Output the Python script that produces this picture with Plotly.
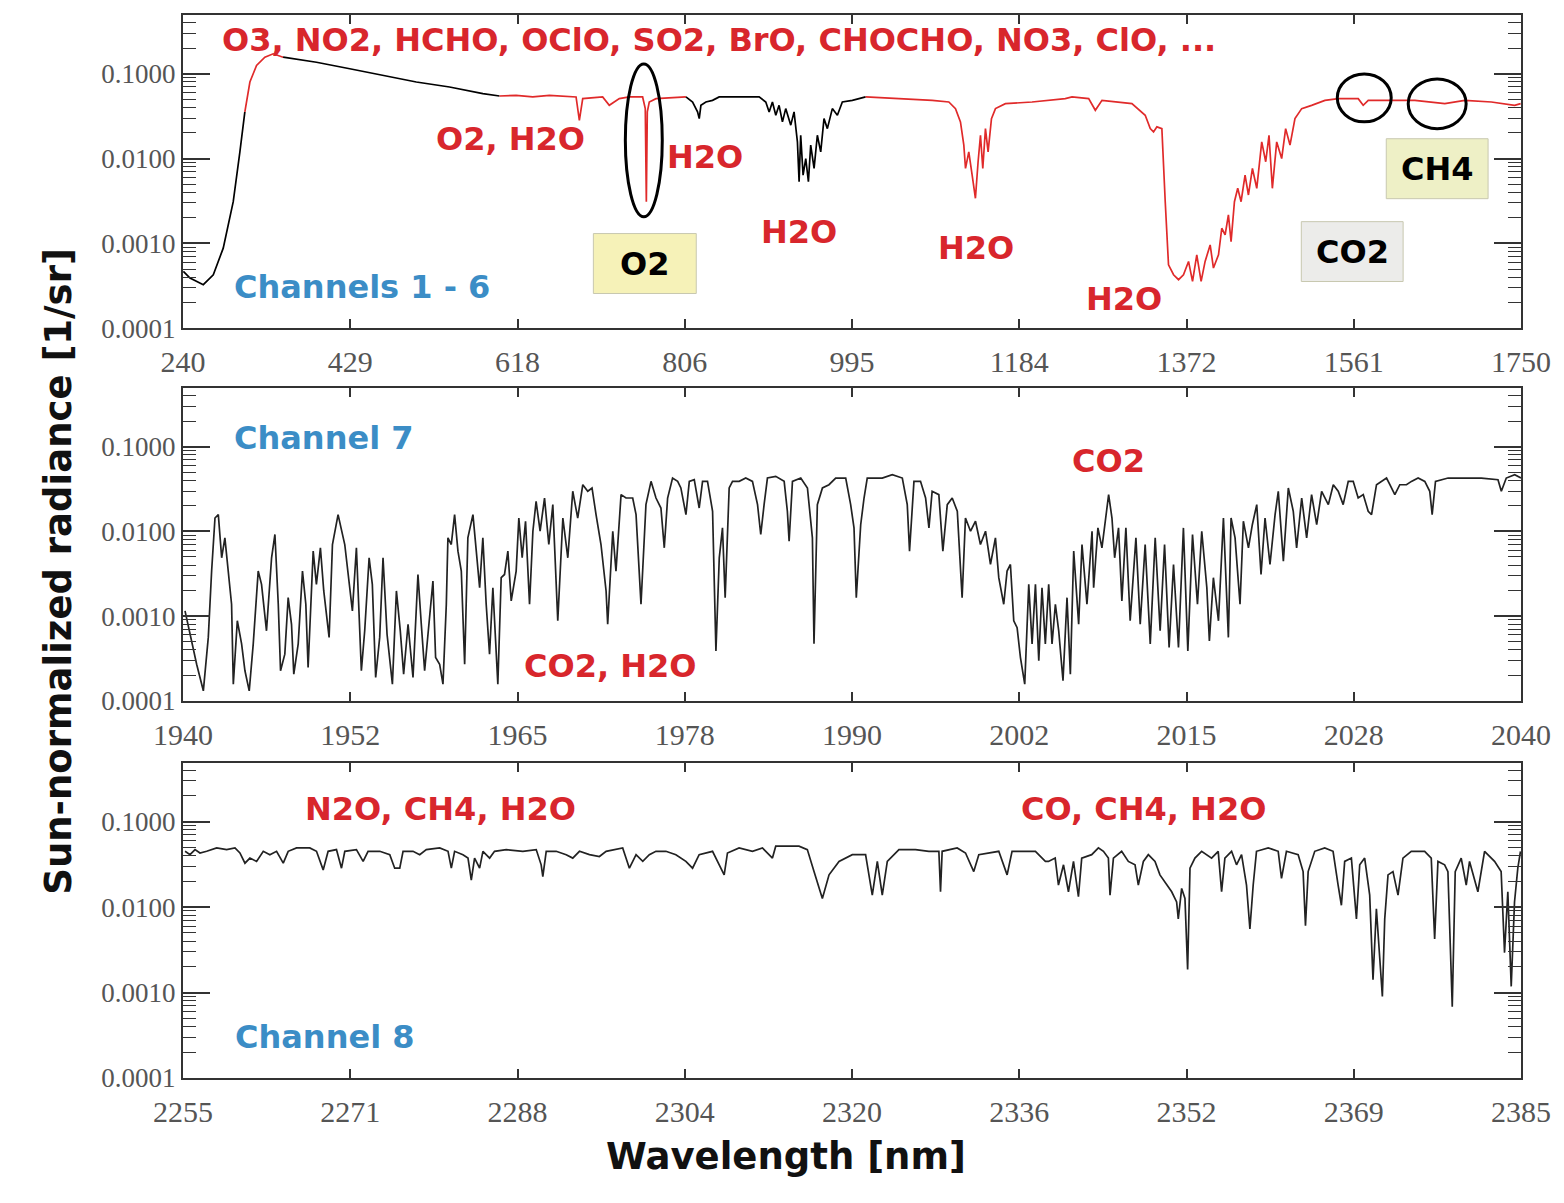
import plotly.graph_objects as go
from plotly.subplots import make_subplots

# ---- Channels 1-6 (240-1750 nm) ----
ch16_wl = [240.4, 247.9, 262.9, 274.2, 285.4, 296.7, 304.2, 309.8, 315.5, 323.0, 332.4, 341.8, 353.0,
           390.6, 428.2, 465.7, 503.3, 540.8, 578.4, 597.2, 616.0, 634.7, 653.5, 683.6, 687.3, 691.1,
           713.6, 721.1, 726.8, 732.4, 743.7, 758.7, 761.7, 762.9, 764.0, 766.2, 773.8, 807.6, 815.1,
           820.7, 822.6, 824.5, 830.1, 837.6, 845.1, 890.2, 897.7, 901.5, 905.2, 909.0, 912.7, 916.5,
           920.2, 925.9, 929.6, 933.4, 935.3, 937.1, 939.8, 942.8, 945.8, 948.4, 952.2, 955.9, 959.7,
           963.4, 967.2, 972.8, 978.5, 984.1, 995.4, 1010.4, 1085.5, 1104.3, 1111.8, 1117.4, 1121.2,
           1123.1, 1126.8, 1130.6, 1134.3, 1137.3, 1140.0, 1142.6, 1145.6, 1148.6, 1152.4, 1156.9,
           1168.1, 1198.2, 1235.7, 1243.3, 1262.1, 1269.6, 1277.1, 1310.9, 1325.9, 1331.6, 1335.3,
           1339.1, 1344.7, 1348.5, 1352.2, 1357.9, 1363.5, 1369.1, 1374.8, 1379.3, 1384.1, 1389.0,
           1393.5, 1399.2, 1402.9, 1408.6, 1412.3, 1416.1, 1419.8, 1422.8, 1426.6, 1430.3, 1434.1,
           1438.6, 1442.4, 1446.9, 1451.8, 1457.4, 1461.9, 1465.6, 1469.4, 1474.3, 1479.9, 1484.4,
           1489.3, 1494.9, 1502.5, 1513.7, 1528.7, 1543.8, 1566.3, 1571.9, 1577.6, 1630.2, 1650.0,
           1664.0, 1686.5, 1716.6, 1742.8, 1749.6]
ch16_rad = [4.69e-4, 3.91e-4, 3.27e-4, 4.28e-4, 8.8e-4, 0.0031, 0.012, 0.0354, 0.0796, 0.125, 0.156, 0.171, 0.156,
            0.136, 0.114, 0.0953, 0.0796, 0.0695, 0.058, 0.0545, 0.0555, 0.0531, 0.0555, 0.0531, 0.0282, 0.0507,
            0.0531, 0.0423, 0.0463, 0.0507, 0.0531, 0.0531, 0.0387, 0.0031, 0.0354, 0.0463, 0.0507, 0.0531, 0.0463,
            0.0354, 0.0295, 0.0423, 0.0463, 0.0484, 0.0531, 0.0531, 0.0463, 0.0354, 0.0463, 0.0323, 0.0423, 0.027,
            0.0387, 0.0247, 0.0354, 0.0157, 0.00533, 0.0188, 0.00638, 0.01, 0.00533, 0.0144, 0.00764, 0.0188, 0.012,
            0.0295, 0.0225, 0.0387, 0.0323, 0.0463, 0.0484, 0.0531, 0.0484, 0.0463, 0.0387, 0.027, 0.0144,
            0.00764, 0.012, 0.00638, 0.0034, 0.00916, 0.0188, 0.00764, 0.0225, 0.012, 0.0295, 0.0387,
            0.0443, 0.0463, 0.0507, 0.0531, 0.0507, 0.037, 0.0484, 0.0443, 0.0323, 0.0225, 0.0206,
            0.0236, 0.0225, 0.0031, 0.000561, 0.000428, 0.000374, 0.000428, 0.000614, 0.000357, 0.000735, 0.000357,
            0.000614, 0.00096, 0.000513, 0.000735, 0.00151, 0.00126, 0.00217, 0.00105, 0.0031, 0.00446, 0.0031,
            0.00638, 0.00372, 0.00764, 0.00446, 0.0157, 0.00916, 0.0188, 0.00446, 0.0157, 0.01, 0.0225,
            0.0144, 0.0295, 0.0387, 0.0423, 0.0484, 0.0507, 0.0507, 0.0423, 0.0484, 0.0484, 0.0455,
            0.0443, 0.0484, 0.0463, 0.0423, 0.0443]
# channel colour pieces: (start nm, end nm, colour)
ch16_pieces = [(240.4, 309.8, "black"), (309.8, 353.0, "#e02a2a"), (353.0, 597.2, "black"),
               (597.2, 807.6, "#e02a2a"), (807.6, 1010.4, "black"), (1010.4, 1749.6, "#e02a2a")]

# ---- Channel 7 (1940-2040 nm) ----
ch7_wl = [1940.15, 1941.02, 1941.52, 1941.89, 1942.14, 1942.39, 1942.64, 1942.89, 1943.13, 1943.38, 1943.63,
          1943.76, 1944.06, 1944.38, 1944.63, 1944.95, 1945.25, 1945.62, 1945.87, 1946.24, 1946.62, 1946.87,
          1947.12, 1947.29, 1947.61, 1947.86, 1948.11, 1948.28, 1948.61, 1948.93, 1949.18, 1949.35, 1949.73,
          1949.97, 1950.27, 1950.52, 1950.92, 1951.17, 1951.59, 1952.09, 1952.41, 1952.66, 1952.96, 1953.33,
          1953.58, 1953.91, 1954.15, 1954.40, 1954.70, 1954.95, 1955.25, 1955.65, 1955.95, 1956.24, 1956.49,
          1956.82, 1957.19, 1957.56, 1957.81, 1958.06, 1958.31, 1958.68, 1958.88, 1959.18, 1959.43, 1959.68,
          1959.80, 1960.05, 1960.30, 1960.55, 1960.80, 1961.05, 1961.29, 1961.67, 1961.92, 1962.17, 1962.41,
          1962.66, 1962.91, 1963.16, 1963.53, 1963.78, 1964.03, 1964.28, 1964.53, 1964.90, 1965.10, 1965.35,
          1965.60, 1965.90, 1966.15, 1966.39, 1966.69, 1967.02, 1967.34, 1967.64, 1968.01, 1968.39, 1968.76,
          1969.13, 1969.50, 1969.88, 1970.25, 1970.57, 1970.87, 1971.24, 1971.62, 1971.74, 1972.12, 1972.36,
          1972.74, 1973.11, 1973.61, 1973.86, 1974.23, 1974.60, 1974.98, 1975.35, 1975.72, 1975.97, 1976.22,
          1976.59, 1976.97, 1977.21, 1977.59, 1977.84, 1978.21, 1978.58, 1978.83, 1979.20, 1979.58, 1979.83,
          1980.08, 1980.32, 1980.52, 1980.82, 1981.07, 1981.57, 1982.06, 1982.56, 1982.94, 1983.18, 1983.43,
          1983.68, 1984.30, 1984.93, 1985.17, 1985.30, 1985.55, 1986.17, 1986.67, 1987.04, 1987.16, 1987.41,
          1987.79, 1988.28, 1988.78, 1989.53, 1989.90, 1990.15, 1990.32, 1990.65, 1990.90, 1991.14, 1991.77,
          1992.26, 1993.01, 1993.76, 1994.13, 1994.30, 1994.63, 1995.12, 1995.50, 1995.75, 1995.99, 1996.49,
          1996.79, 1997.12, 1997.49, 1997.87, 1998.23, 1998.48, 1998.86, 1999.23, 1999.60, 1999.98, 2000.35,
          2000.72, 2000.97, 2001.34, 2001.59, 2001.84, 2002.09, 2002.34, 2002.59, 2002.91, 2003.21, 2003.46,
          2003.71, 2003.96, 2004.20, 2004.45, 2004.70, 2004.95, 2005.20, 2005.45, 2005.77, 2006.07, 2006.32,
          2006.57, 2006.94, 2007.19, 2007.56, 2007.94, 2008.06, 2008.38, 2008.68, 2008.93, 2009.18, 2009.43,
          2009.63, 2009.92, 2010.17, 2010.47, 2010.79, 2011.22, 2011.54, 2011.91, 2012.29, 2012.66, 2013.03,
          2013.36, 2013.70, 2014.03, 2014.40, 2014.77, 2015.10, 2015.45, 2015.82, 2016.14, 2016.52, 2016.71,
          2017.01, 2017.39, 2017.76, 2018.13, 2018.33, 2018.63, 2019.00, 2019.25, 2019.63, 2019.92, 2020.25,
          2020.57, 2020.87, 2021.24, 2021.62, 2021.86, 2022.24, 2022.61, 2022.98, 2023.23, 2023.61, 2023.98,
          2024.35, 2024.73, 2025.10, 2025.60, 2025.97, 2026.34, 2026.71, 2027.09, 2027.46, 2027.83, 2028.21,
          2028.58, 2028.83, 2029.20, 2029.58, 2029.95, 2030.20, 2030.57, 2030.94, 2031.44, 2031.81, 2032.31,
          2032.81, 2033.18, 2033.36, 2033.61, 2034.55, 2037.04, 2038.28, 2038.53, 2038.90, 2039.53, 2040.0]
ch7_rad = [0.00115, 0.00027, 0.000131, 0.00056, 0.0034, 0.0144, 0.0158, 0.00488, 0.0084, 0.00372, 0.00138,
           0.000157, 0.00088, 0.00047, 0.000226, 0.000131, 0.00047, 0.0034, 0.00237, 0.00067, 0.00488, 0.0092,
           0.00138, 0.000226, 0.000355, 0.00165, 0.0008, 0.000206, 0.00047, 0.0034, 0.00138, 0.000247, 0.00585,
           0.00237, 0.0064, 0.00198, 0.00056, 0.0070, 0.0158, 0.0070, 0.00237, 0.00115, 0.0064, 0.000226,
           0.00067, 0.00488, 0.00237, 0.000188, 0.00056, 0.00488, 0.00061, 0.000157, 0.00198, 0.00067, 0.000206,
           0.0008, 0.000188, 0.0031, 0.0008, 0.000226, 0.00061, 0.00259, 0.000324, 0.00027, 0.000157, 0.00138,
           0.0084, 0.0070, 0.0158, 0.00585, 0.0034, 0.00027, 0.0084, 0.0158, 0.00585, 0.00216, 0.0084,
           0.00138, 0.000355, 0.00216, 0.000157, 0.00284, 0.0031, 0.00585, 0.00151, 0.0034, 0.0144, 0.00488,
           0.0132, 0.00138, 0.01005, 0.0227, 0.01005, 0.0248, 0.0070, 0.0207, 0.00088, 0.0144, 0.00488,
           0.0298, 0.0144, 0.0356, 0.0298, 0.0326, 0.0158, 0.0070, 0.00198, 0.0008, 0.01005, 0.0034,
           0.0272, 0.0248, 0.0248, 0.0158, 0.00138, 0.0207, 0.039, 0.0248, 0.0189, 0.0064, 0.0248,
           0.0427, 0.039, 0.0326, 0.0158, 0.039, 0.0408, 0.0189, 0.039, 0.039, 0.0173, 0.000388,
           0.00488, 0.0110, 0.00165, 0.0326, 0.039, 0.039, 0.0427, 0.039, 0.0207, 0.0092, 0.0207,
           0.0427, 0.0447, 0.039, 0.0173, 0.00767, 0.039, 0.0427, 0.0326, 0.0084, 0.00047, 0.0207,
           0.0326, 0.0356, 0.0427, 0.0427, 0.0207, 0.0110, 0.00165, 0.0120, 0.0248, 0.0427, 0.0427,
           0.0427, 0.0468, 0.0427, 0.0207, 0.00585, 0.039, 0.039, 0.0248, 0.0110, 0.0298, 0.0272,
           0.00585, 0.0207, 0.0248, 0.0173, 0.00165, 0.0144, 0.01005, 0.0132, 0.0070, 0.01005, 0.00407,
           0.0084, 0.00284, 0.00138, 0.0034, 0.00407, 0.00088, 0.00073, 0.000324, 0.000157, 0.00237, 0.00047,
           0.00237, 0.000296, 0.00216, 0.00047, 0.00237, 0.00047, 0.00138, 0.00067, 0.000172, 0.00165, 0.000206,
           0.00585, 0.0008, 0.0070, 0.00138, 0.01005, 0.00216, 0.0110, 0.0064, 0.0144, 0.0272, 0.0144,
           0.00488, 0.0110, 0.00151, 0.0110, 0.00088, 0.0084, 0.0008, 0.0070, 0.00047, 0.0084, 0.00067,
           0.0070, 0.000425, 0.00407, 0.000425, 0.0110, 0.000388, 0.0092, 0.00138, 0.01005, 0.00216, 0.00051,
           0.00284, 0.00088, 0.0144, 0.00056, 0.0144, 0.0084, 0.00138, 0.0132, 0.0064, 0.0120, 0.0207,
           0.0031, 0.0144, 0.00407, 0.0158, 0.0298, 0.00446, 0.0326, 0.0173, 0.0064, 0.0248, 0.0084,
           0.0272, 0.0120, 0.0298, 0.0207, 0.0356, 0.0298, 0.0207, 0.039, 0.039, 0.0248, 0.0272,
           0.0173, 0.0158, 0.0356, 0.039, 0.0427, 0.0356, 0.0272, 0.0356, 0.0356, 0.039, 0.0427,
           0.039, 0.0298, 0.0158, 0.039, 0.0427, 0.0427, 0.0408, 0.0298, 0.0427, 0.0468, 0.0427]

# ---- Channel 8 (2255-2385 nm) ----
ch8_wl = [2255.20, 2255.68, 2256.17, 2256.65, 2257.30, 2258.27, 2259.24, 2260.05, 2260.53, 2261.02, 2261.50,
          2262.15, 2262.80, 2263.44, 2264.09, 2264.74, 2265.22, 2266.03, 2267.32, 2267.97, 2268.62, 2269.10,
          2269.91, 2270.40, 2270.72, 2271.85, 2272.50, 2272.98, 2274.12, 2275.09, 2275.57, 2276.06, 2276.38,
          2277.35, 2278.00, 2278.64, 2279.94, 2280.75, 2281.07, 2281.39, 2282.20, 2282.69, 2283.01, 2283.33,
          2283.82, 2284.14, 2284.79, 2285.27, 2286.41, 2288.02, 2289.32, 2289.80, 2289.96, 2290.29, 2291.26,
          2292.23, 2292.87, 2293.52, 2294.49, 2295.46, 2296.11, 2297.08, 2297.72, 2298.37, 2299.02, 2299.67,
          2300.31, 2300.95, 2301.92, 2302.89, 2303.86, 2304.51, 2305.15, 2306.45, 2307.58, 2307.90, 2309.03,
          2310.33, 2311.30, 2312.27, 2312.59, 2314.85, 2315.66, 2316.31, 2317.12, 2317.77, 2318.74, 2320.03,
          2321.32, 2321.97, 2322.46, 2322.94, 2323.43, 2324.56, 2326.17, 2327.47, 2328.44, 2328.60, 2328.76,
          2330.22, 2331.03, 2331.83, 2332.32, 2334.26, 2335.07, 2335.55, 2336.85, 2337.82, 2338.79, 2339.09,
          2339.74, 2340.06, 2340.55, 2341.03, 2341.52, 2342.00, 2342.32, 2343.29, 2343.94, 2344.43, 2344.91,
          2345.07, 2345.40, 2346.20, 2346.85, 2347.50, 2347.82, 2348.31, 2348.79, 2349.44, 2349.92, 2350.57,
          2351.06, 2351.54, 2351.70, 2352.03, 2352.35, 2352.61, 2352.84, 2353.32, 2353.97, 2354.94, 2355.58,
          2355.91, 2356.23, 2356.88, 2357.36, 2357.85, 2358.33, 2358.66, 2358.98, 2359.30, 2360.44, 2361.41,
          2361.73, 2362.21, 2363.35, 2363.83, 2364.06, 2364.32, 2364.96, 2365.93, 2366.74, 2367.23, 2367.55,
          2367.87, 2368.52, 2369.01, 2369.33, 2369.81, 2370.30, 2370.62, 2370.95, 2371.53, 2371.76, 2372.08,
          2372.56, 2373.05, 2373.53, 2374.34, 2375.64, 2376.28, 2376.61, 2376.93, 2377.58, 2377.90, 2378.32,
          2378.61, 2379.19, 2379.68, 2380.00, 2380.81, 2381.46, 2382.43, 2383.07, 2383.40, 2383.72, 2384.05,
          2384.37, 2384.69, 2384.95]
ch8_rad = [0.0449, 0.041, 0.047, 0.0429, 0.0449, 0.0492, 0.047, 0.0492, 0.0429, 0.0326, 0.0374,
           0.0342, 0.0449, 0.041, 0.0449, 0.0326, 0.0449, 0.0492, 0.0492, 0.0449, 0.0272, 0.0449,
           0.047, 0.0285, 0.0449, 0.047, 0.0342, 0.0449, 0.0449, 0.041, 0.0285, 0.0285, 0.0449,
           0.0449, 0.041, 0.047, 0.0492, 0.0449, 0.0285, 0.0449, 0.041, 0.0374, 0.0207, 0.0374,
           0.0285, 0.0449, 0.0374, 0.0449, 0.047, 0.0449, 0.047, 0.0312, 0.0227, 0.0449, 0.0449,
           0.041, 0.0374, 0.0449, 0.041, 0.039, 0.0449, 0.047, 0.0492, 0.0285, 0.041, 0.0342,
           0.041, 0.0449, 0.0449, 0.041, 0.0342, 0.0285, 0.041, 0.0449, 0.0238, 0.0429, 0.0492,
           0.0449, 0.0492, 0.0374, 0.0515, 0.0515, 0.047, 0.026, 0.0126, 0.0238, 0.0342, 0.041,
           0.041, 0.0138, 0.0342, 0.0138, 0.0342, 0.047, 0.047, 0.0449, 0.0449, 0.0151, 0.0449,
           0.0492, 0.0429, 0.026, 0.041, 0.0449, 0.0238, 0.0449, 0.0449, 0.0449, 0.0342, 0.0342,
           0.0374, 0.0181, 0.0312, 0.0151, 0.0342, 0.0132, 0.0374, 0.041, 0.0492, 0.0449, 0.0374,
           0.0138, 0.0374, 0.0449, 0.0342, 0.0312, 0.0181, 0.0342, 0.041, 0.0342, 0.0238, 0.0181,
           0.0151, 0.01146, 0.00728, 0.0165, 0.0126, 0.00186, 0.0285, 0.0374, 0.0449, 0.0374, 0.0449,
           0.0151, 0.0374, 0.0449, 0.0312, 0.041, 0.0181, 0.00554, 0.0181, 0.0449, 0.0492, 0.0449,
           0.0217, 0.0449, 0.041, 0.026, 0.00607, 0.026, 0.0449, 0.0492, 0.0449, 0.0181, 0.0105,
           0.0342, 0.0374, 0.00728, 0.0312, 0.0374, 0.0138, 0.00141, 0.00955, 0.000897, 0.00728, 0.0238,
           0.026, 0.0138, 0.0374, 0.0449, 0.0449, 0.0374, 0.00422, 0.0342, 0.0312, 0.026, 0.000682,
           0.026, 0.0374, 0.0181, 0.0342, 0.0151, 0.0449, 0.0342, 0.026, 0.00293, 0.0151, 0.00118,
           0.01146, 0.0285, 0.0449]

# axis ranges and tick labels
ch16_range = [240, 1750]
ch7_range = [1940, 2040]
ch8_range = [2255, 2385]
ch16_ticks = [240, 428.75, 617.5, 806.25, 995, 1183.75, 1372.5, 1561.25, 1750]
ch16_ticktext = ["240", "429", "618", "806", "995", "1184", "1372", "1561", "1750"]
ch7_ticks = [1940, 1952.5, 1965, 1977.5, 1990, 2002.5, 2015, 2027.5, 2040]
ch7_ticktext = ["1940", "1952", "1965", "1978", "1990", "2002", "2015", "2028", "2040"]
ch8_ticks = [2255, 2271.25, 2287.5, 2303.75, 2320, 2336.25, 2352.5, 2368.75, 2385]
ch8_ticktext = ["2255", "2271", "2288", "2304", "2320", "2336", "2352", "2369", "2385"]
rad_ticks = [1e-4, 1e-3, 1e-2, 1e-1]
rad_ticktext = ["0.0001", "0.0010", "0.0100", "0.1000"]

RED = "#d8262c"
BLUE = "#3b8dc6"
TXT = dict(family="DejaVu Sans", size=32, weight="bold")

fig = make_subplots(rows=3, cols=1)

for lo, hi, col in ch16_pieces:
    xs = [w for w in ch16_wl if lo <= w <= hi]
    ys = [r for w, r in zip(ch16_wl, ch16_rad) if lo <= w <= hi]
    fig.add_trace(go.Scatter(x=xs, y=ys, mode="lines", line=dict(color=col, width=1.7)), row=1, col=1)
fig.add_trace(go.Scatter(x=ch7_wl, y=ch7_rad, mode="lines", line=dict(color="#222", width=1.7)), row=2, col=1)
fig.add_trace(go.Scatter(x=ch8_wl, y=ch8_rad, mode="lines", line=dict(color="#222", width=1.7)), row=3, col=1)

minor_vals = [m * 10.0 ** e for e in range(-4, 0) for m in range(2, 10)]
yax = dict(type="log", range=[-4, -0.31], tickmode="array", tickvals=rad_ticks, ticktext=rad_ticktext,
           ticks="inside", ticklen=27, tickwidth=1.5, tickcolor="#333", mirror="allticks",
           showline=True, linecolor="#333", linewidth=2, showgrid=False, zeroline=False,
           tickfont=dict(family="Liberation Serif", size=27, color="#555"),
           minor=dict(ticks="inside", ticklen=13, tickwidth=1.2, tickcolor="#333",
                      tickmode="array", tickvals=minor_vals, showgrid=False))
xax = dict(ticks="inside", ticklen=9, tickwidth=1.5, tickcolor="#333", mirror="allticks",
           showline=True, linecolor="#333", linewidth=2, showgrid=False, zeroline=False,
           tickfont=dict(family="Liberation Serif", size=30, color="#555"), ticklabelstandoff=6)

doms = [[0.7052, 1.0], [0.3549, 0.6488], [0.0, 0.2967]]
ranges = [ch16_range, ch7_range, ch8_range]
ticks = [(ch16_ticks, ch16_ticktext), (ch7_ticks, ch7_ticktext), (ch8_ticks, ch8_ticktext)]
for i in range(3):
    n = "" if i == 0 else str(i + 1)
    fig.layout["xaxis" + n].update(range=ranges[i], tickmode="array", tickvals=ticks[i][0],
                                   ticktext=ticks[i][1], domain=[0, 1], **xax)
    fig.layout["yaxis" + n].update(domain=doms[i], **yax)

# text labels (paper coordinates)
labels = [
    ("O3, NO2, HCHO, OClO, SO2, BrO, CHOCHO, NO3, ClO, ...", 0.4007, 0.9765, RED),
    ("O2, H2O", 0.2448, 0.8836, RED),
    ("H2O", 0.3903, 0.8667, RED),
    ("H2O", 0.4604, 0.7962, RED),
    ("H2O", 0.5925, 0.7812, RED),
    ("H2O", 0.7030, 0.7333, RED),
    ("Channels 1 - 6", 0.1336, 0.7437, BLUE),
    ("O2", 0.3451, 0.7662, "black"),
    ("CO2", 0.8739, 0.7775, "black"),
    ("CH4", 0.9373, 0.8554, "black"),
    ("Channel 7", 0.1056, 0.6019, BLUE),
    ("CO2", 0.6918, 0.5803, RED),
    ("CO2, H2O", 0.3194, 0.3878, RED),
    ("N2O, CH4, H2O", 0.1925, 0.2535, RED),
    ("CO, CH4, H2O", 0.7179, 0.2535, RED),
    ("Channel 8", 0.1060, 0.0385, BLUE),
]
for t, x, y, c in labels:
    fig.add_annotation(text=t, x=x, y=y, xref="paper", yref="paper", showarrow=False,
                       xanchor="center", yanchor="middle", font=dict(color=c, **TXT))

# boxes behind O2 / CO2 / CH4
boxes = [(0.3067, 0.7380, 0.3836, 0.7944, "#f6f2b8"),
         (0.8358, 0.7493, 0.9119, 0.8056, "#ececea"),
         (0.8993, 0.8272, 0.9754, 0.8836, "#eef0c6")]
for x0, y0, x1, y1, fc in boxes:
    fig.add_shape(type="rect", xref="paper", yref="paper", x0=x0, y0=y0, x1=x1, y1=y1,
                  fillcolor=fc, line=dict(color="#c8c8b0", width=1), layer="below")

# ellipses marking O2, CO2 and CH4 absorption
ellipses = [(0.3306, 0.8103, 0.3582, 0.9540),
            (0.8627, 0.8995, 0.9030, 0.9446),
            (0.9157, 0.8930, 0.9590, 0.9399)]
for x0, y0, x1, y1 in ellipses:
    fig.add_shape(type="circle", xref="paper", yref="paper", x0=x0, y0=y0, x1=x1, y1=y1,
                  line=dict(color="black", width=3))

fig.add_annotation(text="Wavelength [nm]", x=0.4507, y=-0.0958, xref="paper", yref="paper",
                   showarrow=False, font=dict(family="DejaVu Sans", size=37, weight="bold", color="#111"))
fig.add_annotation(text="Sun-normalized radiance [1/sr]", x=-0.1104, y=0.477, xref="paper", yref="paper",
                   showarrow=False, textangle=-90,
                   font=dict(family="DejaVu Sans", size=37, weight="bold", color="#111"))

# page body has an 8px margin, so the figure is shrunk and shifted to land on the reference grid
fig.update_layout(width=1548, height=1187, showlegend=False, paper_bgcolor="white", plot_bgcolor="white",
                  margin=dict(l=175, r=33, t=5, b=117, pad=0))
fig.write_html("out.html")
